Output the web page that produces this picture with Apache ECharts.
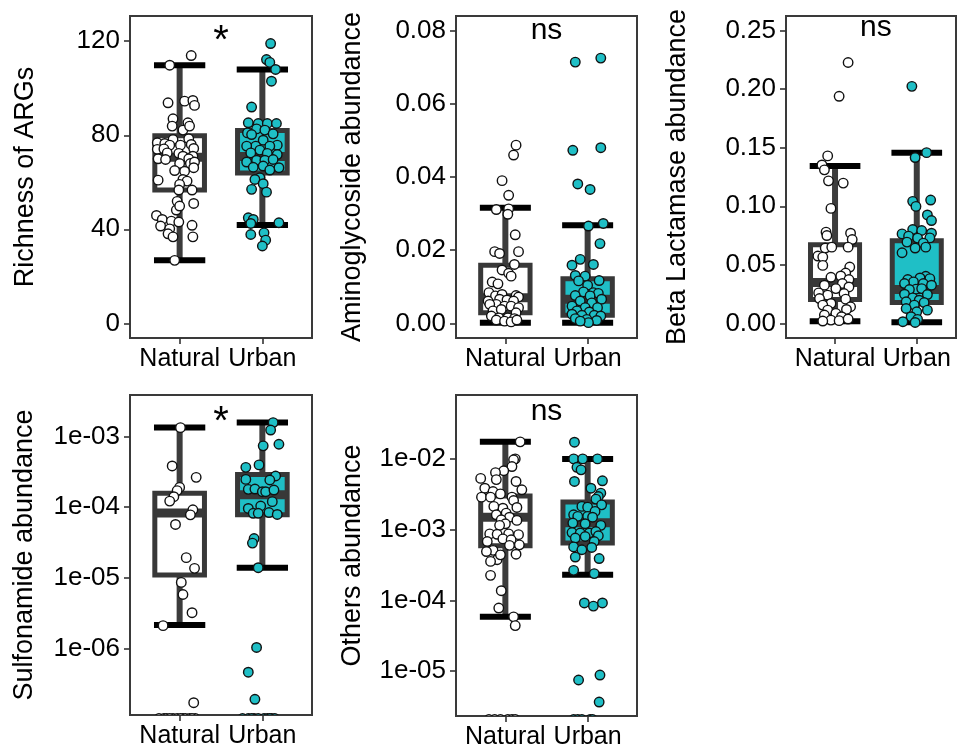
<!DOCTYPE html>
<html>
<head>
<meta charset="utf-8">
<script src="https://cdn.jsdelivr.net/npm/echarts@6/dist/echarts.min.js"></script>
<style>
  html, body { margin: 0; padding: 0; background: #ffffff; }
  #chart { width: 957px; height: 755px; }
</style>
</head>
<body>
<div id="chart"></div>
<script>
// ---- categories and labels ----
const groups = ['Natural', 'Urban'];
const axisTitles = ['Richness of ARGs', 'Aminoglycoside abundance', 'Beta Lactamase abundance',
                    'Sulfonamide abundance', 'Others abundance'];
const sigLabels = ['*', 'ns', 'ns', '*', 'ns'];

// ---- tick values ----
const richnessTicks = [0, 40, 80, 120];
const aminoTicks = [0, 0.02, 0.04, 0.06, 0.08];
const betaTicks = [0, 0.05, 0.10, 0.15, 0.20, 0.25];
const sulfoTicks = [1e-6, 1e-5, 1e-4, 1e-3];
const othersTicks = [1e-5, 1e-4, 1e-3, 1e-2];

// ---- box statistics: [lower whisker, Q1, median, Q3, upper whisker] for Natural, Urban ----
const richnessBoxes = [[26.8, 56.7, 70.6, 79.8, 109.8], [41.8, 64, 71, 82, 108]];
const aminoBoxes = [[0.0002, 0.0029, 0.007, 0.0159, 0.0316], [0.0002, 0.0022, 0.0066, 0.0122, 0.0268]];
const betaBoxes = [[0.0017, 0.0204, 0.035, 0.0672, 0.1345], [0.001, 0.0179, 0.029, 0.0705, 0.1458]];
const sulfoBoxes = [[2.14e-6, 1.1e-5, 8.3e-5, 1.58e-4, 1.35e-3], [1.39e-5, 7.8e-5, 1.5e-4, 2.9e-4, 1.58e-3]];
const othersBoxes = [[5.85e-5, 5.9e-4, 1.5e-3, 3.0e-3, 1.74e-2], [2.3e-4, 6.5e-4, 1.25e-3, 2.45e-3, 1.0e-2]];

// ---- samples: [horizontal jitter, value] ----
const richnessNatural = [[0.14,113.9],[-0.12,109.8],[-0.14,93.8],[0.06,94.5],[0.16,94.8],[0.18,92.7],[-0.08,87],[0.1,85.3],[-0.09,83.9],[0.04,82.2],[0.12,83.9],[-0.08,78.2],[0.11,78.5],[-0.27,76.8],[-0.18,76.5],[0.01,75.8],[-0.12,75.8],[0.14,76.1],[-0.27,74],[-0.19,74.2],[0.17,74.4],[-0.15,72.5],[-0.01,72.3],[0.04,71.1],[0.16,71.1],[-0.26,70],[-0.17,69.7],[0.11,70],[0,68],[0.13,68],[0.18,68.6],[0.17,66.2],[-0.06,65],[0.06,64.7],[-0.26,60.9],[0.04,61.2],[0.09,60.5],[0,59.1],[-0.01,56.7],[0.15,56.7],[-0.03,51.9],[0.17,51],[-0.04,48.2],[0,49.9],[-0.28,45.9],[-0.21,44.2],[-0.1,43.5],[-0.01,43.1],[-0.23,41.4],[-0.12,40.2],[0.15,41.7],[-0.14,38.1],[-0.08,36.8],[0.16,36.8],[-0.06,26.8]];
const richnessUrban = [[0.1,119],[0.05,112.2],[0.09,111],[0.16,108],[0.11,103],[-0.13,92],[-0.17,85.3],[-0.05,85],[0.06,85],[0.17,85],[-0.18,81],[-0.07,82.7],[0.03,82.2],[0.13,80.6],[-0.13,80.3],[0.01,77.9],[0.18,75.8],[-0.08,75.4],[0.09,75.4],[-0.19,75.4],[-0.03,73.7],[-0.14,72.5],[0.06,72.3],[0.18,71.8],[-0.19,68.6],[-0.07,69.4],[0.03,69.4],[0.13,69.7],[-0.11,66.4],[0.01,66.9],[0.2,66.2],[0.09,65.2],[-0.03,61.9],[-0.09,61.2],[0.01,59.4],[-0.13,57],[0.05,55.8],[-0.17,44.9],[-0.11,44.2],[-0.14,42.5],[0.2,42.8],[-0.14,37.8],[0.02,38.5],[0.04,35.4],[0,32.9]];

const aminoNatural = [[0.13,0.0487],[0.10,0.046],[-0.04,0.039],[0.04,0.035],[-0.11,0.0311],[0.04,0.0313],[0.03,0.0298],[0.12,0.0242],[-0.13,0.0196],[-0.07,0.0191],[0.16,0.0196],[0.11,0.0161],[-0.04,0.0146],[0.04,0.0137],[0.07,0.0129],[-0.16,0.0113],[-0.09,0.0108],[-0.2,0.0084],[-0.12,0.0075],[-0.04,0.0079],[0.13,0.0076],[0.16,0.0072],[-0.21,0.0061],[-0.07,0.0066],[0.02,0.0064],[0.1,0.0061],[-0.11,0.0052],[-0.19,0.0052],[-0.01,0.0047],[0.07,0.0047],[0.16,0.0043],[-0.15,0.0034],[-0.05,0.0038],[0.13,0.0029],[-0.17,0.002],[-0.08,0.0015],[0.03,0.0015],[0.11,0.0013],[-0.11,0.0009],[-0.01,0.0006],[0.07,0.0004],[0.14,0.0009]];
const aminoUrban = [[-0.15,0.0714],[0.16,0.0725],[-0.18,0.0473],[0.16,0.048],[-0.12,0.0381],[0.03,0.0366],[0.01,0.0266],[0.19,0.0273],[0.15,0.0218],[-0.09,0.0175],[-0.19,0.0159],[0.07,0.0161],[-0.03,0.0129],[-0.15,0.0131],[-0.11,0.0116],[0.14,0.0117],[0,0.0104],[-0.05,0.0086],[0.07,0.0084],[0.13,0.0082],[-0.15,0.0076],[0.03,0.0075],[0.17,0.0066],[-0.09,0.0061],[0.05,0.0056],[-0.19,0.0047],[-0.03,0.0043],[0.12,0.0043],[-0.13,0.0034],[0.02,0.0031],[-0.19,0.0025],[-0.07,0.0022],[0.08,0.0022],[0.16,0.002],[-0.15,0.0013],[-0.01,0.0011],[0.11,0.0008],[0.01,0.0002],[-0.09,0.0006]];

const betaNatural = [[0.16,0.2228],[0.05,0.1939],[-0.09,0.143],[-0.16,0.1353],[-0.13,0.1311],[-0.08,0.1217],[0.1,0.1198],[-0.05,0.0982],[-0.11,0.0779],[-0.1,0.075],[0.19,0.077],[0.21,0.0716],[-0.12,0.0643],[-0.04,0.0651],[0.16,0.0651],[-0.21,0.0575],[-0.15,0.0566],[-0.15,0.0495],[0.18,0.0481],[0.13,0.043],[0.07,0.0405],[-0.05,0.0394],[0.17,0.0374],[-0.13,0.0326],[0.09,0.034],[0.01,0.0297],[0.17,0.0311],[-0.2,0.026],[0.11,0.0255],[-0.09,0.0241],[-0.19,0.0212],[0.13,0.0207],[-0.05,0.017],[-0.15,0.0156],[0.19,0.0142],[-0.09,0.0113],[0.14,0.0119],[0.01,0.0085],[-0.13,0.0071],[0.08,0.0057],[-0.05,0.0028],[0.05,0.0023],[0.16,0.0037],[-0.15,0.002]];
const betaUrban = [[-0.06,0.2024],[-0.02,0.1416],[0.12,0.1458],[-0.05,0.1042],[0.17,0.1053],[-0.01,0.0999],[0.13,0.0926],[0.18,0.0878],[-0.05,0.0801],[0.06,0.0793],[0.18,0.077],[-0.18,0.0764],[-0.1,0.0745],[0.01,0.0728],[0.16,0.073],[-0.12,0.0694],[0.08,0.0685],[-0.18,0.0603],[-0.02,0.0643],[0.11,0.0651],[0.11,0.0402],[0.04,0.0388],[0.16,0.0382],[-0.11,0.0374],[-0.04,0.0354],[-0.15,0.034],[0.08,0.034],[0.18,0.0326],[-0.01,0.0292],[-0.09,0.0289],[0.06,0.0297],[-0.15,0.0249],[0.13,0.0246],[-0.05,0.0218],[0.03,0.0198],[-0.13,0.0184],[-0.03,0.0156],[0.09,0.0178],[-0.13,0.0127],[0.13,0.0113],[0,0.0099],[-0.07,0.0057],[0.01,0.0034],[-0.17,0.0014],[-0.02,0.0008]];

const sulfoNatural = [[0.01,1.34e-3],[-0.09,3.84e-4],[0.2,2.65e-4],[0,1.91e-4],[-0.03,1.72e-4],[-0.07,1.41e-4],[-0.12,1.22e-4],[0.16,9.2e-5],[0.13,7.8e-5],[-0.05,5.7e-5],[0.08,1.93e-5],[0.18,1.36e-5],[0.02,8.6e-6],[0.04,5.8e-6],[0.15,3.2e-6],[-0.2,2.1e-6],[0.17,1.7e-7],
  [-0.25,0],[-0.19,0],[-0.16,0],[-0.08,0],[-0.03,0],[0.04,0],[0.07,0],[0.12,0],[0.19,0],[-0.12,0],[0.01,0],[0.15,0]];
const sulfoUrban = [[0.13,1.58e-3],[0.1,1.24e-3],[0.01,7.4e-4],[0.2,7.8e-4],[-0.2,3.67e-4],[-0.04,3.98e-4],[0.16,2.77e-4],[-0.2,2.48e-4],[0.09,2.43e-4],[-0.17,1.79e-4],[-0.09,1.81e-4],[0,1.66e-4],[0.04,1.66e-4],[0.14,1.75e-4],[0.12,1.2e-4],[-0.17,9.6e-5],[-0.02,1.04e-4],[-0.11,8.2e-5],[-0.05,8.2e-5],[0.08,8.4e-5],[0.18,7.9e-5],[-0.1,3.6e-5],[-0.12,3.1e-5],[-0.05,1.39e-5],[-0.07,1.03e-6],[-0.17,4.6e-7],[-0.09,1.9e-7],
  [-0.24,0],[-0.17,0],[-0.1,0],[-0.05,0],[0.02,0],[0.06,0],[0.11,0],[0.15,0],[-0.13,0],[0.09,0]];

const othersNatural = [[0.18,1.74e-2],[0.12,1.0e-2],[0.1,9.7e-3],[0.08,7.8e-3],[-0.02,6.8e-3],[-0.12,6.4e-3],[-0.3,5.3e-3],[-0.11,5.1e-3],[0.13,4.8e-3],[-0.25,3.85e-3],[0.2,3.66e-3],[-0.15,3.46e-3],[-0.06,3.2e-3],[-0.29,2.88e-3],[-0.18,2.88e-3],[0.08,2.88e-3],[0.1,2.58e-3],[-0.03,2.01e-3],[-0.14,2.13e-3],[0.14,2.06e-3],[0.01,1.71e-3],[-0.11,1.62e-3],[0.05,1.5e-3],[-0.05,1.38e-3],[0.14,1.35e-3],[0,1.21e-3],[-0.07,1.15e-3],[-0.19,8.7e-4],[-0.1,8.6e-4],[0.04,8.7e-4],[0.16,8.5e-4],[-0.03,7.4e-4],[0.07,7.2e-4],[-0.22,6.8e-4],[0.17,6.1e-4],[0.05,6.0e-4],[-0.15,5.1e-4],[-0.23,4.9e-4],[0.13,4.5e-4],[-0.1,3.76e-4],[-0.18,3.56e-4],[-0.06,4.4e-4],[-0.18,2.26e-4],[-0.05,1.37e-4],[-0.08,7.8e-5],[0.1,5.85e-5],[0.12,4.4e-5],
  [-0.2,0],[-0.13,0],[-0.06,0],[0.03,0],[0.08,0],[0.12,0]];
const othersUrban = [[-0.16,1.72e-2],[-0.17,1.0e-2],[-0.06,1.0e-2],[0.12,1.0e-2],[-0.13,7.6e-3],[-0.08,7.0e-3],[-0.16,4.8e-3],[0.18,4.9e-3],[0.04,3.85e-3],[0.16,3.28e-3],[0.13,2.94e-3],[0.1,2.7e-3],[0.17,2.24e-3],[-0.07,2.13e-3],[0,2.08e-3],[0.09,1.81e-3],[-0.17,1.62e-3],[-0.12,1.54e-3],[0,1.54e-3],[0.06,1.5e-3],[-0.18,1.24e-3],[-0.03,1.21e-3],[0.16,1.15e-3],[-0.19,9.1e-4],[-0.09,8.95e-4],[0.02,8.95e-4],[0.1,9.4e-4],[0.13,8.2e-4],[-0.15,7.6e-4],[-0.03,8.0e-4],[0.08,6.8e-4],[-0.17,5.7e-4],[0.05,5.6e-4],[-0.07,5.2e-4],[-0.15,4.1e-4],[0.14,3.9e-4],[-0.17,2.66e-4],[0.08,2.39e-4],[-0.04,9.2e-5],[0.07,8.3e-5],[0.18,9.2e-5],[-0.11,7.5e-6],[0.15,8.8e-6],[0.14,3.66e-6],
  [-0.17,0],[-0.12,0],[-0.07,0],[0.03,0],[0.06,0]];

// ---- panel assembly ----
const FONT = "'Liberation Sans', Arial, Helvetica, sans-serif";
const CYAN = '#1fbfc6';
const FILLS = ['#ffffff', CYAN];
const BOX_LINE = '#383838';

const panels = [
  { title: axisTitles[0], ticks: richnessTicks, boxes: richnessBoxes, points: [richnessNatural, richnessUrban], sig: sigLabels[0], log: false, fmt: v => String(Math.round(v)) },
  { title: axisTitles[1], ticks: aminoTicks, boxes: aminoBoxes, points: [aminoNatural, aminoUrban], sig: sigLabels[1], log: false, fmt: v => v.toFixed(2) },
  { title: axisTitles[2], ticks: betaTicks, boxes: betaBoxes, points: [betaNatural, betaUrban], sig: sigLabels[2], log: false, fmt: v => v.toFixed(2) },
  { title: axisTitles[3], ticks: sulfoTicks, boxes: sulfoBoxes, points: [sulfoNatural, sulfoUrban], sig: sigLabels[3], log: true },
  { title: axisTitles[4], ticks: othersTicks, boxes: othersBoxes, points: [othersNatural, othersUrban], sig: sigLabels[4], log: true }
];

// grid placement, axis extents (log panels in log10 units) and annotation placement
const layout = [
  { left: 130, top: 16, width: 182, height: 322, xMax: 2.6, yMin: -6.225, yMax: 130.725, nameGap: 91, sigY: 119.7, sigSize: 40 },
  { left: 456, top: 16, width: 181, height: 322, xMax: 2.6, yMin: -0.0040, yMax: 0.0840, nameGap: 90, sigY: 0.0800, sigSize: 30 },
  { left: 786, top: 16, width: 170, height: 322, xMax: 2.48, yMin: -0.0125, yMax: 0.2625, nameGap: 95, sigY: 0.2523, sigSize: 30 },
  { left: 130, top: 395, width: 182, height: 320, xMax: 2.6, yMin: -6.944, yMax: -2.41, nameGap: 92, sigY: -2.80, sigSize: 40 },
  { left: 456, top: 395, width: 181, height: 321, xMax: 2.6, yMin: -5.634, yMax: -1.097, nameGap: 90, sigY: -1.328, sigSize: 30 }
];

const BOX_HALF = 0.30;
const CAP_HALF = 0.31;

function renderBox(params, api) {
  const x = api.value(0);
  const lo = api.coord([x, api.value(1)]);
  const q1 = api.coord([x, api.value(2)]);
  const md = api.coord([x, api.value(3)]);
  const q3 = api.coord([x, api.value(4)]);
  const hi = api.coord([x, api.value(5)]);
  const bl = api.coord([x - BOX_HALF, api.value(3)])[0];
  const br = api.coord([x + BOX_HALF, api.value(3)])[0];
  const cl = api.coord([x - CAP_HALF, api.value(3)])[0];
  const cr = api.coord([x + CAP_HALF, api.value(3)])[0];
  return {
    type: 'group',
    children: [
      { type: 'line', shape: { x1: lo[0], y1: lo[1], x2: hi[0], y2: hi[1] }, style: { stroke: '#3c3c3c', lineWidth: 6 } },
      { type: 'line', shape: { x1: cl, y1: lo[1], x2: cr, y2: lo[1] }, style: { stroke: '#000', lineWidth: 6 } },
      { type: 'line', shape: { x1: cl, y1: hi[1], x2: cr, y2: hi[1] }, style: { stroke: '#000', lineWidth: 6 } },
      { type: 'rect', shape: { x: bl, y: q3[1], width: br - bl, height: q1[1] - q3[1] },
        style: { fill: FILLS[params.dataIndex], stroke: BOX_LINE, lineWidth: 5 } },
      { type: 'line', shape: { x1: bl, y1: md[1], x2: br, y2: md[1] }, style: { stroke: BOX_LINE, lineWidth: 9 } }
    ]
  };
}

const option = { animation: false, backgroundColor: '#ffffff', grid: [], xAxis: [], yAxis: [], series: [] };
const tickStyle = { color: '#333333', width: 1.6 };
const xTextStyle = { fontFamily: FONT, fontSize: 25, color: '#000000' };
const yTextStyle = { fontFamily: FONT, fontSize: 26, color: '#000000' };
const titleStyle = { fontFamily: FONT, fontSize: 27, color: '#000000' };

panels.forEach((p, i) => {
  const L = layout[i];
  const toAxis = p.log ? v => Math.log10(v) : v => v;
  const fmt = p.log ? v => '1e-' + String(Math.round(-v)).padStart(2, '0') : p.fmt;
  // zero abundances sit just under the floor of a log panel
  const zeroAt = L.yMin - 0.05;

  option.grid.push({ left: L.left, top: L.top, width: L.width, height: L.height, show: true,
    borderColor: '#3a3a3a', borderWidth: 2, backgroundColor: 'transparent' });

  option.xAxis.push({
    gridIndex: i, type: 'value', min: 0.4, max: L.xMax,
    axisLine: { show: false, onZero: false }, splitLine: { show: false },
    axisTick: { customValues: [1, 2], length: 6, lineStyle: tickStyle },
    axisLabel: Object.assign({ customValues: [1, 2], formatter: v => groups[Math.round(v) - 1], margin: 9 }, xTextStyle)
  });

  const tickVals = p.ticks.map(toAxis);
  option.yAxis.push({
    gridIndex: i, type: 'value', min: L.yMin, max: L.yMax,
    axisLine: { show: false, onZero: false }, splitLine: { show: false },
    axisTick: { customValues: tickVals, length: 6, lineStyle: tickStyle },
    axisLabel: Object.assign({ customValues: tickVals, formatter: fmt, margin: 10 }, yTextStyle),
    name: p.title, nameLocation: 'middle', nameGap: L.nameGap,
    nameTextStyle: Object.assign({}, titleStyle)
  });

  option.series.push({
    type: 'custom', xAxisIndex: i, yAxisIndex: i, z: 2, silent: true,
    renderItem: renderBox,
    data: p.boxes.map((b, g) => [g + 1].concat(b.map(toAxis)))
  });

  p.points.forEach((pts, g) => {
    const positive = pts.filter(d => !p.log || d[1] > 0);
    const zeros = pts.filter(d => p.log && d[1] <= 0);
    option.series.push({
      type: 'scatter', xAxisIndex: i, yAxisIndex: i, z: 3, silent: true,
      symbol: 'circle', symbolSize: 9.5,
      itemStyle: { color: FILLS[g], borderColor: '#111111', borderWidth: 1.4, opacity: 1 },
      data: positive.map(d => [g + 1 + d[0], toAxis(d[1])])
    });
    if (zeros.length) {
      option.series.push({
        type: 'custom', xAxisIndex: i, yAxisIndex: i, z: 3, silent: true, clip: true,
        renderItem: (params, api) => {
          const c = api.coord([api.value(0), api.value(1)]);
          return { type: 'circle', shape: { cx: c[0], cy: c[1], r: 4.75 },
                   style: { fill: FILLS[g], stroke: '#111111', lineWidth: 1.4 } };
        },
        data: zeros.map(d => [g + 1 + d[0], zeroAt])
      });
    }
  });

  option.series.push({
    type: 'custom', xAxisIndex: i, yAxisIndex: i, z: 4, silent: true,
    renderItem: (params, api) => {
      const c = api.coord([api.value(0), api.value(1)]);
      return { type: 'text', x: c[0], y: c[1],
               style: { text: p.sig, fontFamily: FONT, fontSize: L.sigSize, fill: '#000', align: 'center', verticalAlign: 'middle' } };
    },
    data: [[1.5, L.sigY]]
  });
});

const chart = echarts.init(document.getElementById('chart'), null, { renderer: 'canvas' });
chart.setOption(option);
</script>
</body>
</html>
